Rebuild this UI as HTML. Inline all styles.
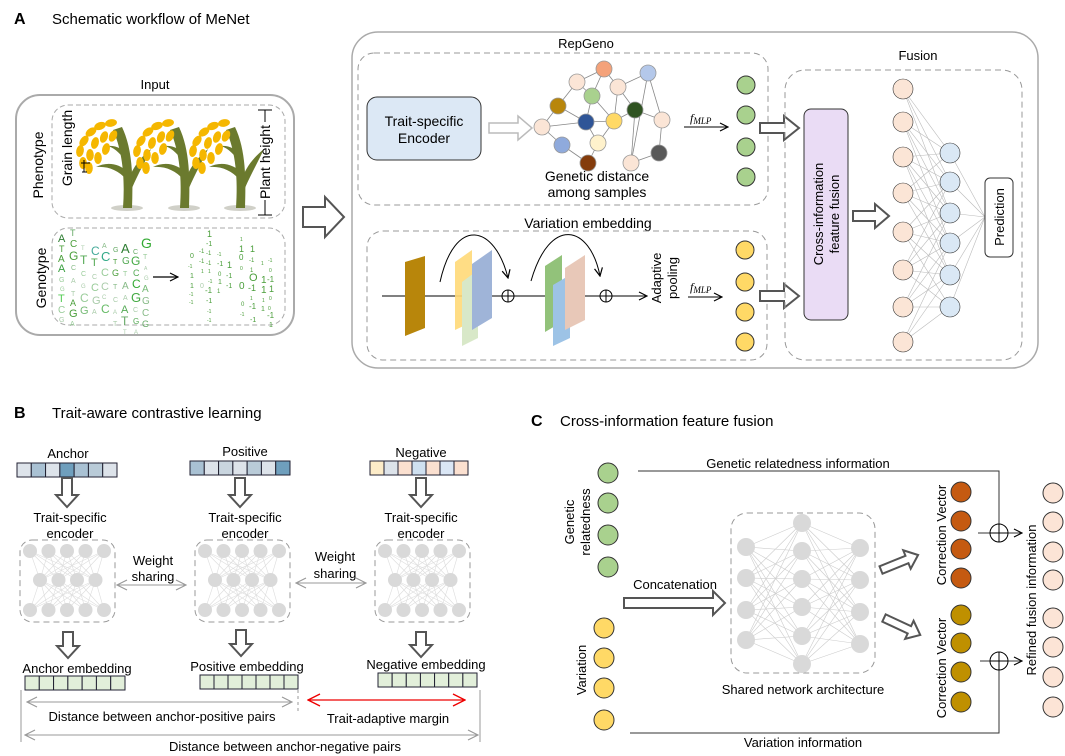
<!DOCTYPE html>
<html><head><meta charset="utf-8"><style>
html,body{margin:0;padding:0;background:#fff;}
svg{display:block;font-family:"Liberation Sans",Arial,sans-serif;}
</style></head><body>
<svg id="s" width="1065" height="756" viewBox="0 0 1065 756" xmlns="http://www.w3.org/2000/svg">
<defs>
<marker id="ar" markerWidth="10" markerHeight="10" refX="9" refY="5" orient="auto" markerUnits="userSpaceOnUse"><path d="M1,1 L9,5 L1,9" fill="none" stroke="#000" stroke-width="1.2"/></marker>
<marker id="arg" markerWidth="12" markerHeight="12" refX="11" refY="6" orient="auto-start-reverse" markerUnits="userSpaceOnUse"><path d="M1,1 L11,6 L1,11" fill="none" stroke="#999" stroke-width="1.2"/></marker>
<marker id="arr" markerWidth="14" markerHeight="14" refX="13" refY="7" orient="auto-start-reverse" markerUnits="userSpaceOnUse"><path d="M1,1 L13,7 L1,13" fill="none" stroke="#e00" stroke-width="1.4"/></marker>
<g id="plant">
<ellipse cx="127" cy="208" rx="16" ry="3" fill="#d0d0c8"/>
<path d="M123,208 C125,180 123,152 113,130 L122,127 C133,150 133,180 132,208 Z" fill="#6b7a2e"/>
<path d="M127,180 C118,170 108,166 96,167 C108,161 121,164 130,174 Z" fill="#6b7a2e"/>
<path d="M127,184 C132,168 140,158 151,149 C145,162 139,172 132,188 Z" fill="#6b7a2e"/>
<path d="M125,160 C119,152 113,147 107,146 C116,145 123,149 128,155 Z" fill="#6b7a2e"/>
<g fill="#f5b700">
<ellipse cx="111" cy="123" rx="6" ry="3.8" transform="rotate(-10 111 123)"/>
<ellipse cx="100" cy="126" rx="6" ry="3.8" transform="rotate(-20 100 126)"/>
<ellipse cx="91" cy="132" rx="6" ry="3.8" transform="rotate(-35 91 132)"/>
<ellipse cx="84" cy="141" rx="3.8" ry="6" transform="rotate(35 84 141)"/>
<ellipse cx="80" cy="151" rx="3.8" ry="6" transform="rotate(10 80 151)"/>
<ellipse cx="83" cy="163" rx="3.8" ry="6"/>
<ellipse cx="104" cy="137" rx="3.8" ry="6" transform="rotate(20 104 137)"/>
<ellipse cx="95" cy="143" rx="3.8" ry="6" transform="rotate(15 95 143)"/>
<ellipse cx="90" cy="155" rx="3.8" ry="6"/>
<ellipse cx="113" cy="136" rx="3.8" ry="6" transform="rotate(25 113 136)"/>
<ellipse cx="106" cy="149" rx="3.8" ry="6" transform="rotate(15 106 149)"/>
<ellipse cx="98" cy="158" rx="3.8" ry="6"/>
<ellipse cx="89" cy="168" rx="3.8" ry="6"/>
<ellipse cx="141" cy="0" rx="0" ry="0"/>
</g>
</g>
</defs>

<!-- Section A -->
<text x="14" y="24" font-size="16" font-weight="bold">A</text>
<text x="52" y="24" font-size="15">Schematic workflow of MeNet</text>
<text x="155" y="89" font-size="13" text-anchor="middle">Input</text>
<rect x="16" y="95" width="278" height="240" rx="24" fill="none" stroke="#aaa" stroke-width="2"/>
<rect x="52" y="105" width="233" height="113" rx="16" fill="none" stroke="#aaa" stroke-dasharray="5,3"/>
<rect x="52" y="228" width="233" height="97" rx="16" fill="none" stroke="#aaa" stroke-dasharray="5,3"/>
<text transform="translate(43,165) rotate(-90)" font-size="14" text-anchor="middle">Phenotype</text>
<text transform="translate(46,278) rotate(-90)" font-size="14" text-anchor="middle">Genotype</text>
<use href="#plant"/>
<use href="#plant" transform="translate(57,0)"/>
<use href="#plant" transform="translate(113,0)"/>
<text transform="translate(72,148) rotate(-90)" font-size="14" text-anchor="middle">Grain length</text>
<path d="M82,172 H87 M84,160 V172 M81,163 H90" stroke="#000" fill="none"/>
<path d="M258,110 H272 M265,110 V122 M258,215 H272 M265,200 V215" stroke="#000" fill="none"/>
<text transform="translate(270,162) rotate(-90)" font-size="14" text-anchor="middle">Plant height</text>
<!-- genotype letters -->
<g font-size="9" fill="#4a9e3a">
<text x="58" y="242" font-size="11" fill="#2e7d32">A</text><text x="59" y="252">T</text><text x="58" y="262" font-size="10">A</text><text x="58" y="272" font-size="11" fill="#3aa040">A</text><text x="59" y="282" font-size="7" fill="#9c9">G</text><text x="60" y="291" font-size="6" fill="#9c9">G</text><text x="58" y="302" font-size="11" fill="#5c5">T</text><text x="58" y="313" font-size="10" fill="#9c9">C</text><text x="59" y="322" font-size="7" fill="#aca">G</text>
<text x="70" y="236" fill="#6a6">T</text><text x="70" y="247" font-size="10">C</text><text x="69" y="260" font-size="12">G</text><text x="71" y="270" font-size="7" fill="#8b8">C</text><text x="71" y="283" font-size="7" fill="#aca">A</text><text x="71" y="296" font-size="7" fill="#aca">T</text><text x="70" y="306" font-size="9">A</text><text x="69" y="317" font-size="11">G</text><text x="70" y="326" font-size="7" fill="#9c9">A</text>
<text x="81" y="250" font-size="6" fill="#aca">T</text><text x="80" y="264" font-size="12" fill="#5a5">T</text><text x="81" y="276" font-size="7" fill="#9c9">C</text><text x="81" y="288" font-size="6" fill="#aca">G</text><text x="80" y="302" font-size="12" fill="#9c9">C</text><text x="80" y="314" font-size="11" fill="#7b7">G</text>
<text x="91" y="255" font-size="12" fill="#4a9">C</text><text x="91" y="266" font-size="11" fill="#5a5">T</text><text x="92" y="279" font-size="7" fill="#aca">C</text><text x="91" y="291" font-size="11" fill="#9c9">C</text><text x="92" y="304" font-size="11" fill="#aca">G</text><text x="92" y="314" font-size="7" fill="#aca">A</text>
<text x="102" y="248" font-size="7" fill="#8b8">A</text><text x="101" y="261" font-size="13" fill="#3a8">C</text><text x="101" y="276" font-size="11" fill="#9c9">C</text><text x="101" y="290" font-size="11" fill="#aca">C</text><text x="102" y="299" font-size="6" fill="#aca">C</text><text x="101" y="313" font-size="12" fill="#6b6">C</text>
<text x="113" y="252" font-size="7" fill="#6a6">G</text><text x="113" y="264" font-size="7">T</text><text x="112" y="276" font-size="9">G</text><text x="113" y="289" font-size="7" fill="#8b8">T</text><text x="113" y="302" font-size="7" fill="#aca">C</text><text x="113" y="314" font-size="6" fill="#aca">A</text><text x="113" y="326" font-size="7" fill="#aca">T</text>
<text x="121" y="253" font-size="13" fill="#2e7d32">A</text><text x="122" y="264" font-size="10" fill="#5a5">G</text><text x="123" y="276" font-size="7" fill="#9c9">T</text><text x="122" y="289" font-size="10" fill="#8b8">A</text><text x="123" y="300" font-size="7" fill="#aca">A</text><text x="121" y="313" font-size="11" fill="#5a5">A</text><text x="121" y="325" font-size="12" fill="#6a6">T</text><text x="123" y="334" font-size="6" fill="#aca">T</text>
<text x="133" y="254" font-size="7" fill="#6a6">C</text><text x="131" y="265" font-size="12" fill="#4a4">G</text><text x="133" y="276" font-size="9" fill="#5a5">C</text><text x="132" y="288" font-size="12" fill="#3a3">C</text><text x="131" y="302" font-size="13" fill="#4a4">G</text><text x="133" y="312" font-size="7" fill="#aca">C</text><text x="133" y="324" font-size="8" fill="#5a5">G</text><text x="134" y="334" font-size="6" fill="#aca">A</text>
<text x="141" y="248" font-size="14" fill="#3a3">G</text><text x="143" y="259" font-size="7" fill="#9c9">T</text><text x="144" y="270" font-size="5" fill="#aca">A</text><text x="144" y="280" font-size="6" fill="#aca">G</text><text x="142" y="292" font-size="10" fill="#7b7">A</text><text x="142" y="304" font-size="10" fill="#8b8">G</text><text x="142" y="316" font-size="10" fill="#8b8">C</text><text x="142" y="327" font-size="9" fill="#6a6">G</text>
</g>
<line x1="153" y1="277" x2="178" y2="277" stroke="#000" stroke-width="1.2" marker-end="url(#ar)"/>
<g font-size="7" fill="#4a9e3a">
<text x="190" y="258">0</text><text x="188" y="268" font-size="5">-1</text><text x="190" y="278">1</text><text x="190" y="288">1</text><text x="189" y="296" font-size="5">-1</text><text x="189" y="304" font-size="5">-1</text>
<text x="199" y="253" font-size="6">-1</text><text x="199" y="263" font-size="6">-1</text><text x="201" y="273" font-size="5">1</text><text x="200" y="288" font-size="7" fill="#aca">0</text>
<text x="207" y="237" font-size="9">1</text><text x="206" y="246" font-size="7">-1</text><text x="206" y="255" font-size="6">-1</text><text x="206" y="265" font-size="6">-1</text><text x="208" y="273" font-size="5">1</text><text x="208" y="283" font-size="5">-1</text><text x="205" y="293" font-size="8">-1</text><text x="206" y="303" font-size="7">-1</text><text x="207" y="313" font-size="5">-1</text><text x="207" y="322" font-size="5">-1</text>
<text x="217" y="256" font-size="5">-1</text><text x="217" y="266" font-size="7">-1</text><text x="218" y="276" font-size="6">0</text><text x="218" y="284" font-size="7">1</text><text x="217" y="293" font-size="6">1</text>
<text x="227" y="268" font-size="9">1</text><text x="226" y="278" font-size="7">-1</text><text x="226" y="288" font-size="7">-1</text>
<text x="240" y="241" font-size="5">1</text><text x="239" y="252" font-size="9">1</text><text x="239" y="260" font-size="8">0</text><text x="240" y="270" font-size="5">0</text><text x="239" y="289" font-size="10">0</text><text x="241" y="306" font-size="6">0</text><text x="240" y="316" font-size="5">-1</text>
<text x="250" y="252" font-size="9">1</text><text x="249" y="262" font-size="6">-1</text><text x="250" y="272" font-size="6">1</text><text x="249" y="281" font-size="11">O</text><text x="248" y="291" font-size="9">-1</text><text x="250" y="300" font-size="5">1</text><text x="249" y="309" font-size="8">-1</text><text x="250" y="322" font-size="7">-1</text>
<text x="261" y="265" font-size="5">1</text><text x="261" y="283" font-size="10">1</text><text x="261" y="293" font-size="10">1</text><text x="262" y="302" font-size="5">1</text><text x="261" y="311" font-size="7">1</text>
<text x="268" y="262" font-size="5">-1</text><text x="269" y="272" font-size="5">0</text><text x="267" y="282" font-size="8">-1</text><text x="269" y="292" font-size="9">1</text><text x="269" y="300" font-size="5">0</text><text x="268" y="310" font-size="5">0</text><text x="267" y="318" font-size="8">-1</text><text x="269" y="327" font-size="7">1</text>
</g>
<!-- big arrow -->
<path d="M303,207 H325 V197 L344,217 L325,237 V227 H303 Z" fill="#fff" stroke="#555" stroke-width="2"/>

<!-- Right main box -->
<rect x="352" y="32" width="686" height="336" rx="26" fill="none" stroke="#aaa" stroke-width="1.5"/>
<text x="586" y="48" font-size="13" text-anchor="middle">RepGeno</text>
<rect x="358" y="53" width="410" height="152" rx="16" fill="none" stroke="#999" stroke-dasharray="6,4"/>
<rect x="367" y="97" width="114" height="63" rx="10" fill="#dce8f5" stroke="#333"/>
<text x="424" y="126" font-size="14" text-anchor="middle">Trait-specific</text>
<text x="424" y="143" font-size="14" text-anchor="middle">Encoder</text>
<path d="M489,123 H518 V116 L532,128 L518,140 V133 H489 Z" fill="#fff" stroke="#bbb" stroke-width="1.5"/>
<g id="graph" stroke="#888" stroke-width="0.8"></g>
<text x="597" y="181" font-size="14" text-anchor="middle">Genetic distance</text>
<text x="597" y="197" font-size="14" text-anchor="middle">among samples</text>
<text x="690" y="122" font-size="12" font-style="italic" font-family="Liberation Serif">f<tspan font-size="9" dy="2">MLP</tspan></text>
<line x1="684" y1="127" x2="728" y2="127" stroke="#000" marker-end="url(#ar)"/>
<g fill="#a9d18e" stroke="#333"><circle cx="746" cy="85" r="9"/><circle cx="746" cy="115" r="9"/><circle cx="746" cy="147" r="9"/><circle cx="746" cy="177" r="9"/></g>
<path d="M760,123 H784 V116 L799,128 L784,140 V133 H760 Z" fill="#fff" stroke="#555" stroke-width="2"/>

<text x="588" y="228" font-size="14" text-anchor="middle">Variation embedding</text>
<rect x="367" y="231" width="400" height="129" rx="16" fill="none" stroke="#999" stroke-dasharray="6,4"/>
<line x1="382" y1="296" x2="647" y2="296" stroke="#000" marker-end="url(#ar)"/>
<polygon points="405,262 425,256 425,328 405,336" fill="#b8860b"/>
<polygon points="455,262 472,250 472,322 455,330" fill="#ffd978" opacity="0.9"/>
<polygon points="462,282 478,270 478,338 462,346" fill="#d8e8c8"/>
<polygon points="472,264 492,250 492,318 472,330" fill="#9fb4d8"/>
<polygon points="545,266 562,255 562,322 545,332" fill="#92c27a"/>
<polygon points="553,285 570,275 570,338 553,346" fill="#9dc3e6"/>
<polygon points="565,268 585,255 585,320 565,330" fill="#e8c8b8"/>
<path d="M440,282 C455,215 495,225 508,278" fill="none" stroke="#000" marker-end="url(#ar)"/>
<path d="M531,281 C550,215 590,225 600,276" fill="none" stroke="#000" marker-end="url(#ar)"/>
<g fill="#fff" stroke="#000"><circle cx="508" cy="296" r="6"/><circle cx="606" cy="296" r="6"/></g>
<path d="M502,296 H514 M508,290 V302 M600,296 H612 M606,290 V302" stroke="#000"/>
<text transform="translate(661,278) rotate(-90)" font-size="13" text-anchor="middle">Adaptive</text>
<text transform="translate(677,278) rotate(-90)" font-size="13" text-anchor="middle">pooling</text>
<text x="690" y="291" font-size="12" font-style="italic" font-family="Liberation Serif">f<tspan font-size="9" dy="2">MLP</tspan></text>
<line x1="688" y1="297" x2="722" y2="297" stroke="#000" marker-end="url(#ar)"/>
<g fill="#ffd966" stroke="#333"><circle cx="745" cy="250" r="9"/><circle cx="745" cy="282" r="9"/><circle cx="745" cy="312" r="9"/><circle cx="745" cy="342" r="9"/></g>
<path d="M760,291 H784 V284 L799,296 L784,308 V301 H760 Z" fill="#fff" stroke="#555" stroke-width="2"/>

<text x="918" y="60" font-size="13" text-anchor="middle">Fusion</text>
<rect x="785" y="70" width="237" height="290" rx="20" fill="none" stroke="#999" stroke-dasharray="6,4"/>
<rect x="804" y="109" width="44" height="211" rx="7" fill="#eadcf5" stroke="#333"/>
<text transform="translate(823,214) rotate(-90)" font-size="13" text-anchor="middle">Cross-information</text>
<text transform="translate(839,214) rotate(-90)" font-size="13" text-anchor="middle">feature fusion</text>
<path d="M853,211 H875 V204 L889,216 L875,228 V221 H853 Z" fill="#fff" stroke="#555" stroke-width="2"/>
<g id="fusnet" stroke="#bbb" stroke-width="0.6"></g>
<rect x="985" y="178" width="28" height="79" rx="5" fill="#fff" stroke="#333"/>
<text transform="translate(1004,217) rotate(-90)" font-size="13" text-anchor="middle">Prediction</text>

<!-- Section B -->
<text x="14" y="418" font-size="16" font-weight="bold">B</text>
<text x="52" y="418" font-size="15">Trait-aware contrastive learning</text>
<text x="68" y="458" font-size="13" text-anchor="middle">Anchor</text>
<text x="245" y="456" font-size="13" text-anchor="middle">Positive</text>
<text x="421" y="457" font-size="13" text-anchor="middle">Negative</text>
<g id="bars" stroke="#223" stroke-width="1"></g>
<g font-size="13" text-anchor="middle">
<text x="70" y="522">Trait-specific</text><text x="70" y="538">encoder</text>
<text x="245" y="522">Trait-specific</text><text x="245" y="538">encoder</text>
<text x="421" y="522">Trait-specific</text><text x="421" y="538">encoder</text>
<text x="153" y="565">Weight</text><text x="153" y="581">sharing</text>
<text x="335" y="561">Weight</text><text x="335" y="578">sharing</text>
<text x="77" y="673">Anchor embedding</text>
<text x="247" y="671">Positive embedding</text>
<text x="426" y="669">Negative embedding</text>
<text x="162" y="721">Distance between anchor-positive pairs</text>
<text x="388" y="723">Trait-adaptive margin</text>
<text x="285" y="751">Distance between anchor-negative pairs</text>
</g>
<g fill="none" stroke="#999" stroke-dasharray="6,4">
<rect x="20" y="540" width="95" height="82" rx="12"/>
<rect x="195" y="540" width="95" height="82" rx="12"/>
<rect x="375" y="540" width="95" height="82" rx="12"/>
</g>
<g id="bnets"></g>
<line x1="117" y1="585" x2="186" y2="585" stroke="#999" marker-start="url(#arg)" marker-end="url(#arg)"/>
<line x1="296" y1="583" x2="366" y2="583" stroke="#999" marker-start="url(#arg)" marker-end="url(#arg)"/>
<g id="downs"></g>
<line x1="21" y1="690" x2="21" y2="742" stroke="#999"/>
<line x1="298" y1="690" x2="298" y2="712" stroke="#999" stroke-dasharray="3,3"/>
<line x1="480" y1="690" x2="480" y2="742" stroke="#999"/>
<line x1="27" y1="702" x2="292" y2="702" stroke="#999" marker-start="url(#arg)" marker-end="url(#arg)"/>
<line x1="308" y1="700" x2="465" y2="700" stroke="#e00" stroke-width="1.3" marker-start="url(#arr)" marker-end="url(#arr)"/>
<line x1="25" y1="735" x2="478" y2="735" stroke="#999" marker-start="url(#arg)" marker-end="url(#arg)"/>

<!-- Section C -->
<text x="531" y="426" font-size="16" font-weight="bold">C</text>
<text x="560" y="426" font-size="15">Cross-information feature fusion</text>
<g fill="#a9d18e" stroke="#333"><circle cx="608" cy="473" r="10"/><circle cx="608" cy="503" r="10"/><circle cx="608" cy="535" r="10"/><circle cx="608" cy="567" r="10"/></g>
<text transform="translate(574,522) rotate(-90)" font-size="13" text-anchor="middle">Genetic</text>
<text transform="translate(590,522) rotate(-90)" font-size="13" text-anchor="middle">relatedness</text>
<g fill="#ffd966" stroke="#333"><circle cx="604" cy="628" r="10"/><circle cx="604" cy="658" r="10"/><circle cx="604" cy="688" r="10"/><circle cx="604" cy="720" r="10"/></g>
<text transform="translate(586,670) rotate(-90)" font-size="13" text-anchor="middle">Variation</text>
<path d="M638,471 H999 V540" fill="none" stroke="#333"/>
<path d="M630,733 H999 V654" fill="none" stroke="#333"/>
<text x="798" y="468" font-size="13" text-anchor="middle">Genetic relatedness information</text>
<text x="803" y="747" font-size="13" text-anchor="middle">Variation information</text>
<text x="675" y="589" font-size="13" text-anchor="middle">Concatenation</text>
<path d="M624,598 H713 V591 L725,603 L713,615 V608 H624 Z" fill="#fff" stroke="#555" stroke-width="2"/>
<rect x="731" y="513" width="144" height="160" rx="16" fill="none" stroke="#999" stroke-dasharray="6,4"/>
<g id="cnet" stroke="#ccc" stroke-width="0.6"></g>
<text x="803" y="694" font-size="13" text-anchor="middle">Shared network architecture</text>
<g transform="translate(881,570) rotate(-22)"><path d="M0,-4 H28 V-10 L40,0 L28,10 V4 H0 Z" fill="#fff" stroke="#555" stroke-width="2"/></g>
<g transform="translate(884,618) rotate(25)"><path d="M0,-4 H28 V-10 L40,0 L28,10 V4 H0 Z" fill="#fff" stroke="#555" stroke-width="2"/></g>
<text transform="translate(946,535) rotate(-90)" font-size="13" text-anchor="middle">Correction Vector</text>
<text transform="translate(946,668) rotate(-90)" font-size="13" text-anchor="middle">Correction Vector</text>
<g fill="#c55a11" stroke="#333"><circle cx="961" cy="492" r="10"/><circle cx="961" cy="521" r="10"/><circle cx="961" cy="549" r="10"/><circle cx="961" cy="578" r="10"/></g>
<g fill="#bf9000" stroke="#333"><circle cx="961" cy="615" r="10"/><circle cx="961" cy="643" r="10"/><circle cx="961" cy="672" r="10"/><circle cx="961" cy="702" r="10"/></g>
<line x1="978" y1="533" x2="1022" y2="533" stroke="#333" marker-end="url(#ar)"/>
<line x1="980" y1="661" x2="1022" y2="661" stroke="#333" marker-end="url(#ar)"/>
<g fill="none" stroke="#000"><circle cx="999" cy="533" r="9"/><circle cx="999" cy="661" r="9"/></g>
<path d="M990,533 H1008 M999,524 V542 M990,661 H1008 M999,652 V670" stroke="#000"/>
<text transform="translate(1036,600) rotate(-90)" font-size="13" text-anchor="middle">Refined fusion information</text>
<g fill="#fce4d6" stroke="#333"><circle cx="1053" cy="493" r="10"/><circle cx="1053" cy="522" r="10"/><circle cx="1053" cy="552" r="10"/><circle cx="1053" cy="580" r="10"/><circle cx="1053" cy="618" r="10"/><circle cx="1053" cy="647" r="10"/><circle cx="1053" cy="677" r="10"/><circle cx="1053" cy="707" r="10"/></g>
</svg>
<script>
var NS="http://www.w3.org/2000/svg";
function el(p,t,a){var e=document.createElementNS(NS,t);for(var k in a)e.setAttribute(k,a[k]);p.appendChild(e);return e;}
var g=document.getElementById('graph');
var N=[[604,69,'#f4a27a'],[648,73,'#b4c8ea'],[577,82,'#fbe5d6'],[618,87,'#fbe5d6'],[592,96,'#a9d18e'],[558,106,'#b8860b'],[635,110,'#2f5321'],[542,127,'#fbe5d6'],[586,122,'#2f5597'],[614,121,'#ffd966'],[662,120,'#fbe5d6'],[562,145,'#8faadc'],[598,143,'#fff2cc'],[588,163,'#843c0c'],[631,163,'#fbe5d6'],[659,153,'#595959']];
var E=[[0,2],[0,3],[0,4],[2,4],[2,5],[3,6],[1,3],[1,10],[1,14],[4,8],[4,9],[5,7],[5,8],[7,11],[7,8],[8,12],[8,9],[9,6],[9,12],[6,10],[6,14],[11,13],[12,13],[14,15],[10,15],[3,9]];
E.forEach(function(e){el(g,'line',{x1:N[e[0]][0],y1:N[e[0]][1],x2:N[e[1]][0],y2:N[e[1]][1]});});
N.forEach(function(n){el(g,'circle',{cx:n[0],cy:n[1],r:8,fill:n[2],stroke:'#999'});});
var f=document.getElementById('fusnet');
var P=[89,122,157,193,232,270,307,342],B=[153,182,213,243,275,307];
P.forEach(function(a,i){B.forEach(function(b,j){if(Math.abs(i-j*1.4)<4)el(f,'line',{x1:903,y1:a,x2:950,y2:b});});});
B.forEach(function(b){el(f,'line',{x1:950,y1:b,x2:985,y2:217});});
P.forEach(function(a){el(f,'circle',{cx:903,cy:a,r:10,fill:'#fbe5d6',stroke:'#333'});});
B.forEach(function(b){el(f,'circle',{cx:950,cy:b,r:10,fill:'#dae8f5',stroke:'#333'});});
var bs=document.getElementById('bars');
function bar(x,y,w,cols){var cw=w/7;cols.forEach(function(c,i){el(bs,'rect',{x:x+i*cw,y:y,width:cw,height:14,fill:c});});}
bar(17,463,100,['#dde3ea','#a9c1d3','#dde3ea','#6f9fbd','#a9c1d3','#b9cbd8','#dde3ea']);
bar(190,461,100,['#a9c1d3','#dde3ea','#c9d5df','#dde3ea','#b9cbd8','#dde3ea','#6f9fbd']);
bar(370,461,98,['#fdecc8','#dde3ea','#fbe0d0','#cfe0f0','#fbe0d0','#dae6f5','#fbe0d0']);
bar(25,676,100,Array(7).fill('#e2efda'));
bar(200,675,98,Array(7).fill('#e2efda'));
bar(378,673,99,Array(7).fill('#e2efda'));
var bn=document.getElementById('bnets');
[20,195,375].forEach(function(x0){
 var L1=[0,1,2,3,4].map(function(i){return [x0+10+i*18.5,551];});
 var L2=[0,1,2,3].map(function(i){return [x0+20+i*18.5,580];});
 var L3=[0,1,2,3,4].map(function(i){return [x0+10+i*18.5,610];});
 L1.forEach(function(a){L2.forEach(function(b){el(bn,'line',{x1:a[0],y1:a[1],x2:b[0],y2:b[1],stroke:'#ddd','stroke-width':0.6});});});
 L2.forEach(function(a){L3.forEach(function(b){el(bn,'line',{x1:a[0],y1:a[1],x2:b[0],y2:b[1],stroke:'#ddd','stroke-width':0.6});});});
 L1.concat(L2,L3).forEach(function(p){el(bn,'circle',{cx:p[0],cy:p[1],r:7,fill:'#d9d9d9'});});
});
var dn=document.getElementById('downs');
function down(x,y1,y2){el(dn,'path',{d:'M'+(x-5)+','+y1+' V'+(y2-12)+' H'+(x-11)+' L'+x+','+y2+' L'+(x+11)+','+(y2-12)+' H'+(x+5)+' V'+y1+' Z',fill:'#fff',stroke:'#555','stroke-width':2});}
down(67,478,507);down(240,478,507);down(421,478,507);
down(68,632,658);down(241,630,656);down(421,632,657);
var cn=document.getElementById('cnet');
var C1=[547,578,610,640].map(function(y){return[746,y];}),C2=[523,551,579,607,636,664].map(function(y){return[802,y];}),C3=[548,580,612,644].map(function(y){return[860,y];});
C1.forEach(function(a){C2.forEach(function(b){el(cn,'line',{x1:a[0],y1:a[1],x2:b[0],y2:b[1]});});});
C2.forEach(function(a){C3.forEach(function(b){el(cn,'line',{x1:a[0],y1:a[1],x2:b[0],y2:b[1]});});});
C1.concat(C2,C3).forEach(function(p){el(cn,'circle',{cx:p[0],cy:p[1],r:9,fill:'#d9d9d9',stroke:'none'});});
</script>
</body></html>
